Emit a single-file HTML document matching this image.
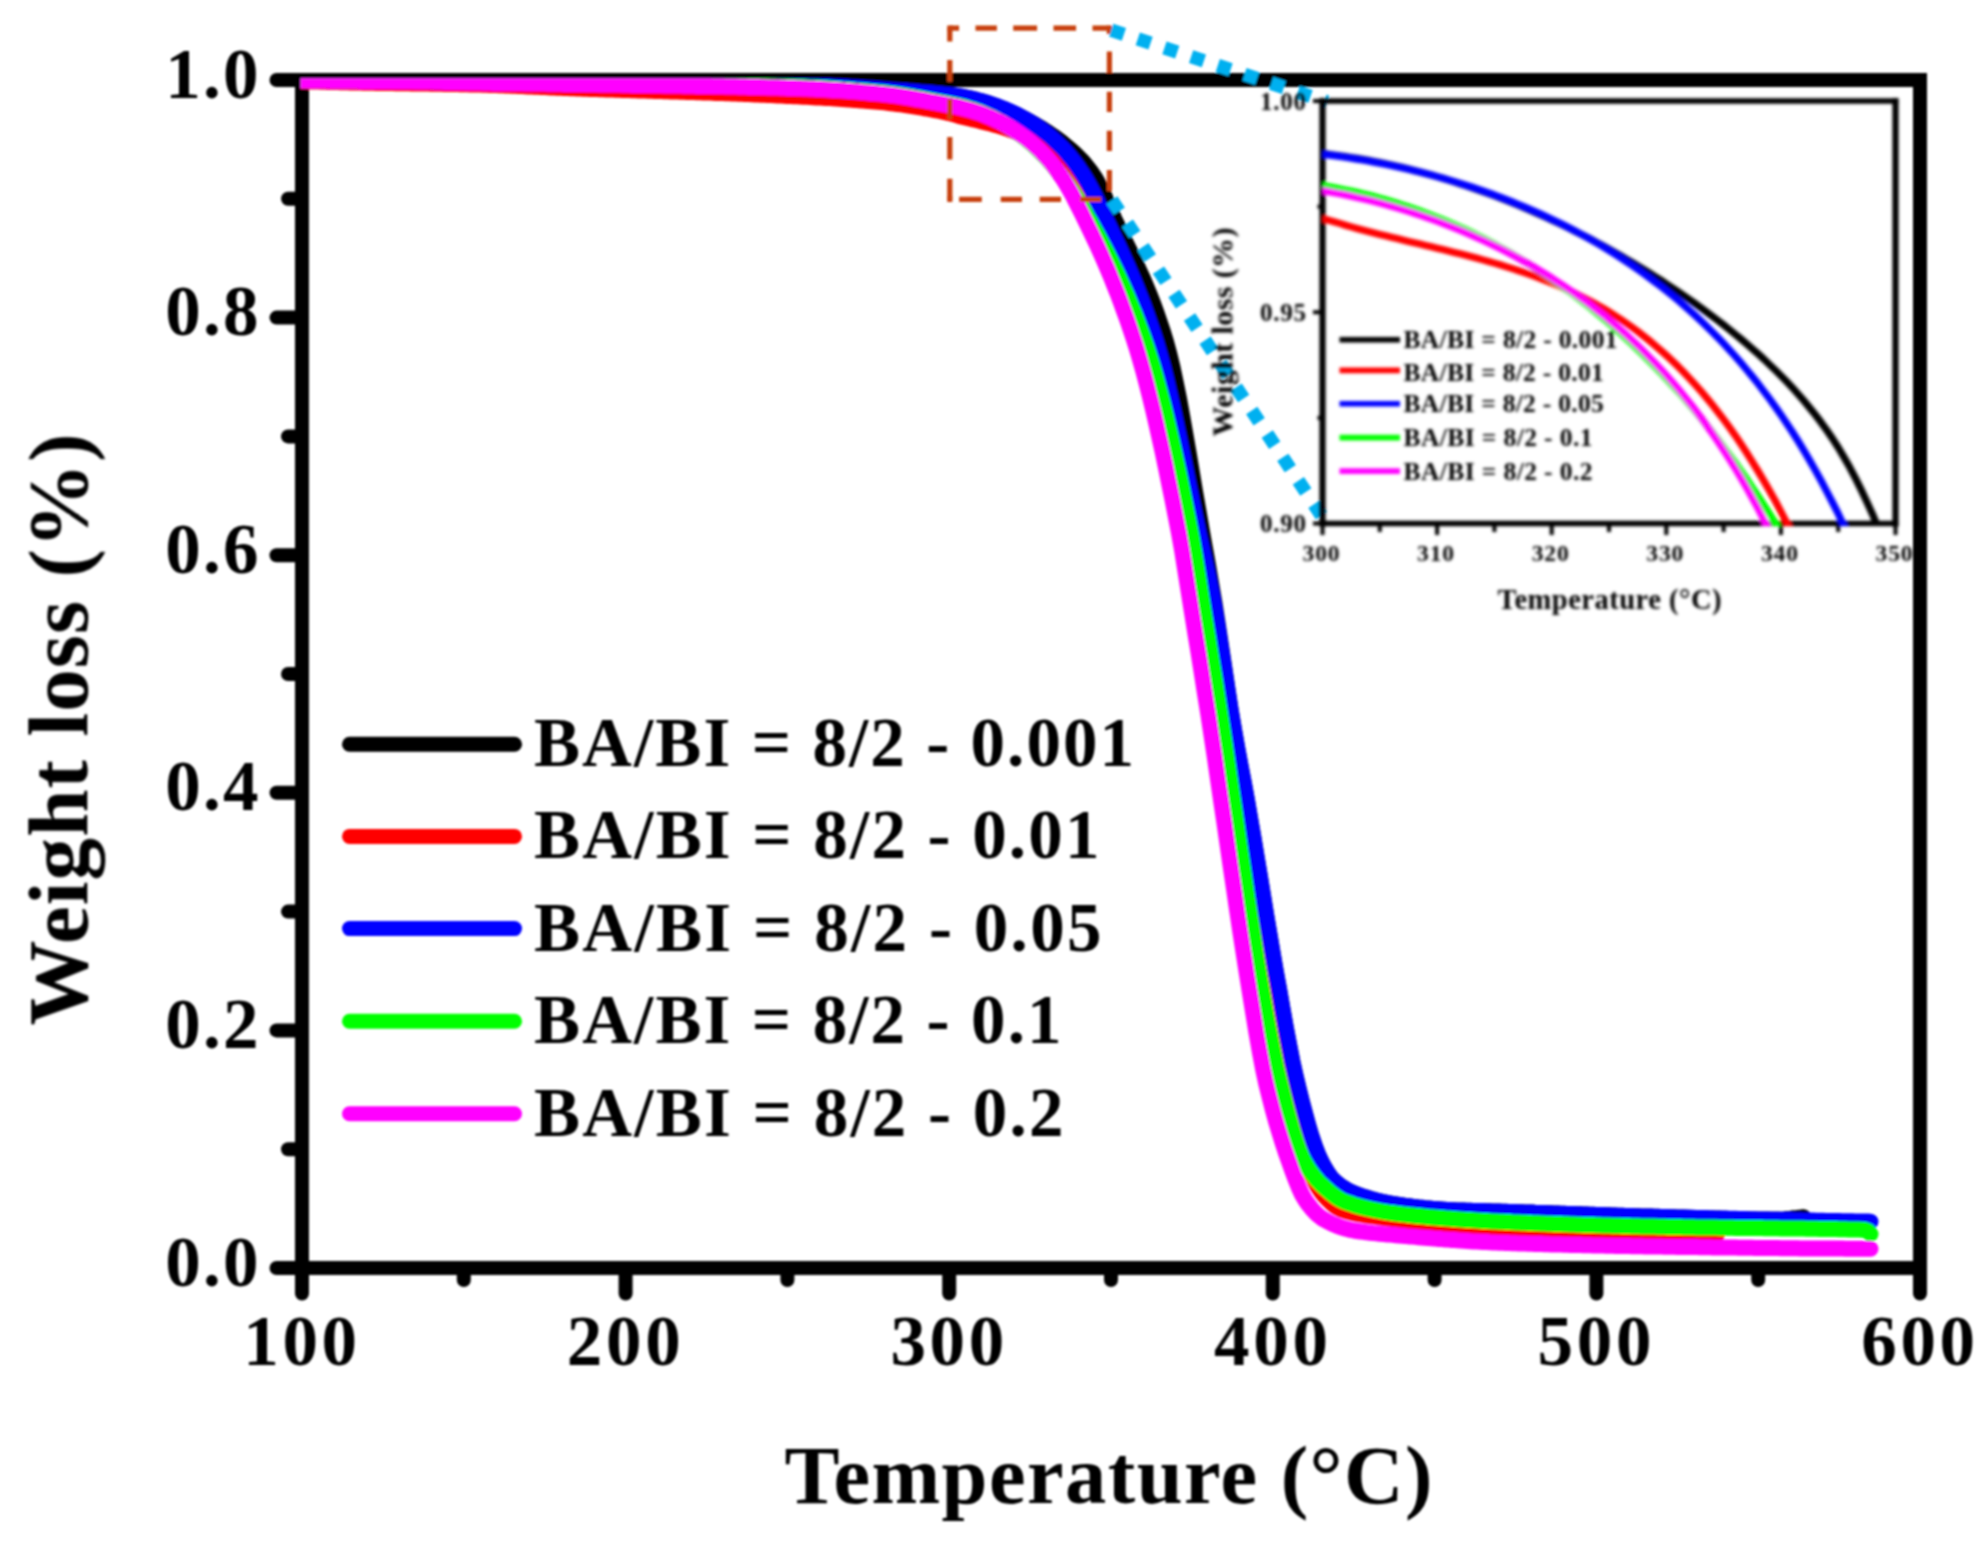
<!DOCTYPE html>
<html lang="en">
<head>
<meta charset="utf-8">
<title>TGA weight loss curves</title>
<style>
html,body{margin:0;padding:0;background:#ffffff;}
body{width:1987px;height:1553px;overflow:hidden;}
svg{display:block;}
text{font-family:"Liberation Serif","Times New Roman",serif;font-weight:bold;fill:#000;}
</style>
</head>
<body>
<svg width="1987" height="1553" viewBox="0 0 1987 1553">
<defs>
<clipPath id="mainclip"><rect x="300.5" y="78.3" width="1619.5" height="1189.7"/></clipPath>
<clipPath id="insetclip"><rect x="1322.5" y="101.0" width="573.0" height="425.0"/></clipPath>
<clipPath id="pageclip"><rect x="0" y="0" width="1913.5" height="1553"/></clipPath>
<filter id="soft" filterUnits="userSpaceOnUse" x="0" y="0" width="1987" height="1553"><feGaussianBlur stdDeviation="0.8"/></filter>
<filter id="softer" x="-2%" y="-2%" width="104%" height="104%"><feGaussianBlur stdDeviation="0.8"/></filter>
</defs>
<rect x="0" y="0" width="1987" height="1553" fill="#ffffff"/>
<g id="figure" filter="url(#soft)">

<g id="main-axes" stroke="#000" stroke-width="14" fill="none">
<rect x="302.0" y="80.0" width="1618.0" height="1188.0"/>
</g>
<g id="main-ticks" stroke="#000" stroke-width="14" stroke-linecap="round" fill="none">
<line x1="276.5" y1="1268.0" x2="302.0" y2="1268.0"/>
<line x1="288" y1="1149.2" x2="302.0" y2="1149.2"/>
<line x1="276.5" y1="1030.4" x2="302.0" y2="1030.4"/>
<line x1="288" y1="911.6" x2="302.0" y2="911.6"/>
<line x1="276.5" y1="792.8" x2="302.0" y2="792.8"/>
<line x1="288" y1="674.0" x2="302.0" y2="674.0"/>
<line x1="276.5" y1="555.2" x2="302.0" y2="555.2"/>
<line x1="288" y1="436.4" x2="302.0" y2="436.4"/>
<line x1="276.5" y1="317.6" x2="302.0" y2="317.6"/>
<line x1="288" y1="198.8" x2="302.0" y2="198.8"/>
<line x1="276.5" y1="80.0" x2="302.0" y2="80.0"/>
<line x1="302.0" y1="1268.0" x2="302.0" y2="1293.5"/>
<line x1="463.8" y1="1268.0" x2="463.8" y2="1280"/>
<line x1="625.6" y1="1268.0" x2="625.6" y2="1293.5"/>
<line x1="787.4" y1="1268.0" x2="787.4" y2="1280"/>
<line x1="949.2" y1="1268.0" x2="949.2" y2="1293.5"/>
<line x1="1111.0" y1="1268.0" x2="1111.0" y2="1280"/>
<line x1="1272.8" y1="1268.0" x2="1272.8" y2="1293.5"/>
<line x1="1434.6" y1="1268.0" x2="1434.6" y2="1280"/>
<line x1="1596.4" y1="1268.0" x2="1596.4" y2="1293.5"/>
<line x1="1758.2" y1="1268.0" x2="1758.2" y2="1280"/>
<line x1="1920.0" y1="1268.0" x2="1920.0" y2="1293.5"/>
</g>
<g id="main-curves" clip-path="url(#mainclip)" fill="none" stroke-linecap="round" stroke-linejoin="round">
<path stroke="#000000" stroke-width="16.0" d="M302.0 80.0L305.2 80.0L308.5 80.0L311.7 80.0L314.9 80.0L318.2 80.0L321.4 80.0L324.7 80.0L327.9 80.0L331.1 80.0L334.4 80.0L337.6 80.0L340.8 80.0L344.1 80.0L347.3 80.0L350.5 80.0L353.8 80.0L357.0 80.0L360.2 80.0L363.5 80.1L366.7 80.1L370.0 80.1L373.2 80.1L376.4 80.1L379.7 80.1L382.9 80.1L386.1 80.1L389.4 80.1L392.6 80.1L395.8 80.1L399.1 80.1L402.3 80.1L405.6 80.1L408.8 80.2L412.0 80.2L415.3 80.2L418.5 80.2L421.7 80.2L425.0 80.2L428.2 80.2L431.4 80.2L434.7 80.2L437.9 80.2L441.1 80.3L444.4 80.3L447.6 80.3L450.9 80.3L454.1 80.3L457.3 80.3L460.6 80.3L463.8 80.3L467.0 80.4L470.3 80.4L473.5 80.4L476.7 80.4L480.0 80.4L483.2 80.4L486.5 80.4L489.7 80.4L492.9 80.5L496.2 80.5L499.4 80.5L502.6 80.5L505.9 80.5L509.1 80.5L512.3 80.6L515.6 80.6L518.8 80.6L522.0 80.6L525.3 80.6L528.5 80.6L531.8 80.6L535.0 80.7L538.2 80.7L541.5 80.7L544.7 80.7L547.9 80.7L551.2 80.7L554.4 80.8L557.6 80.8L560.9 80.8L564.1 80.8L567.4 80.8L570.6 80.9L573.8 80.9L577.1 80.9L580.3 80.9L583.5 80.9L586.8 81.0L590.0 81.0L593.2 81.0L596.5 81.0L599.7 81.0L602.9 81.0L606.2 81.1L609.4 81.1L612.7 81.1L615.9 81.1L619.1 81.1L622.4 81.2L625.6 81.2L628.8 81.2L632.1 81.2L635.3 81.3L638.5 81.3L641.8 81.3L645.0 81.3L648.3 81.4L651.5 81.4L654.7 81.4L658.0 81.4L661.2 81.5L664.4 81.5L667.7 81.6L670.9 81.6L674.1 81.6L677.4 81.7L680.6 81.7L683.8 81.7L687.1 81.8L690.3 81.8L693.6 81.9L696.8 81.9L700.0 82.0L703.3 82.0L706.5 82.1L709.7 82.1L713.0 82.2L716.2 82.2L719.4 82.3L722.7 82.3L725.9 82.4L729.2 82.5L732.4 82.5L735.6 82.6L738.9 82.6L742.1 82.7L745.3 82.8L748.6 82.8L751.8 82.9L755.0 83.0L758.3 83.0L761.5 83.1L764.7 83.2L768.0 83.3L771.2 83.4L774.5 83.5L777.7 83.7L780.9 83.8L784.2 83.9L787.4 84.1L790.6 84.2L793.9 84.4L797.1 84.5L800.3 84.7L803.6 84.8L806.8 85.0L810.1 85.1L813.3 85.3L816.5 85.5L819.8 85.6L823.0 85.8L826.2 85.9L829.5 86.1L832.7 86.3L835.9 86.4L839.2 86.6L842.4 86.8L845.6 87.0L848.9 87.2L852.1 87.4L855.4 87.6L858.6 87.8L861.8 88.0L865.1 88.2L868.3 88.4L871.5 88.6L874.8 88.8L878.0 89.1L881.2 89.3L884.5 89.5L887.7 89.7L891.0 90.0L894.2 90.2L897.4 90.4L900.7 90.6L903.9 90.9L907.1 91.1L910.4 91.3L913.6 91.6L916.8 91.8L920.1 92.1L923.3 92.3L926.5 92.6L929.8 92.9L933.0 93.2L936.3 93.5L939.5 93.8L942.7 94.1L946.0 94.4L949.2 94.8L952.4 95.2L955.7 95.6L958.9 96.1L962.1 96.7L965.4 97.3L968.6 98.0L971.9 98.7L975.1 99.5L978.3 100.4L981.6 101.3L984.8 102.2L988.0 103.2L991.3 104.3L994.5 105.5L997.7 106.6L1001.0 107.9L1004.2 109.2L1007.4 110.5L1010.7 112.0L1013.9 113.4L1017.2 115.0L1020.4 116.5L1023.6 118.2L1026.9 119.9L1030.1 121.7L1033.3 123.5L1036.6 125.4L1039.8 127.3L1043.0 129.3L1046.3 131.4L1049.5 133.6L1052.8 135.8L1056.0 138.1L1059.2 140.5L1062.5 143.0L1065.7 145.6L1068.9 148.3L1072.2 151.1L1075.4 154.1L1078.6 157.2L1081.9 160.6L1085.1 164.3L1088.3 168.2L1091.6 172.6L1094.8 177.4L1098.1 183.0L1101.3 189.3L1104.5 196.2L1107.8 204.0L1111.0 211.4L1114.2 218.6L1117.5 225.5L1120.7 232.2L1123.9 238.9L1127.2 245.5L1130.4 252.1L1133.7 258.7L1136.9 265.5L1140.1 272.5L1143.4 279.7L1146.6 287.3L1149.8 295.1L1153.1 303.4L1156.3 312.2L1159.5 321.5L1162.8 331.4L1166.0 341.9L1169.2 353.7L1172.5 367.2L1175.7 382.3L1179.0 398.7L1182.2 416.2L1185.4 434.5L1188.7 453.3L1191.9 472.5L1195.1 491.7L1198.4 510.7L1201.6 529.3L1204.8 547.4L1208.1 565.7L1211.3 584.5L1214.6 603.9L1217.8 624.5L1221.0 645.8L1224.3 667.6L1227.5 689.2L1230.7 710.1L1234.0 729.8L1237.2 748.1L1240.4 765.3L1243.7 782.4L1246.9 800.0L1250.1 818.6L1253.4 837.6L1256.6 857.0L1259.9 876.6L1263.1 896.3L1266.3 916.0L1269.6 935.3L1272.8 954.3L1276.0 972.8L1279.3 990.8L1282.5 1009.1L1285.7 1027.1L1289.0 1044.6L1292.2 1060.9L1295.5 1075.7L1298.7 1089.1L1301.9 1101.9L1305.2 1114.3L1308.4 1126.0L1311.6 1136.7L1314.9 1146.3L1318.1 1154.7L1321.3 1161.6L1324.6 1167.7L1327.8 1173.0L1331.0 1177.5L1334.3 1180.9L1337.5 1183.6L1340.8 1186.1L1344.0 1188.2L1347.2 1190.1L1350.5 1191.8L1353.7 1193.2L1356.9 1194.5L1360.2 1195.6L1363.4 1196.7L1366.6 1197.7L1369.9 1198.7L1373.1 1199.6L1376.4 1200.4L1379.6 1201.2L1382.8 1202.0L1386.1 1202.7L1389.3 1203.3L1392.5 1203.9L1395.8 1204.4L1399.0 1204.9L1402.2 1205.4L1405.5 1205.9L1408.7 1206.3L1411.9 1206.7L1415.2 1207.1L1418.4 1207.5L1421.7 1207.8L1424.9 1208.2L1428.1 1208.5L1431.4 1208.8L1434.6 1209.1L1437.8 1209.3L1441.1 1209.5L1444.3 1209.7L1447.5 1209.9L1450.8 1210.1L1454.0 1210.2L1457.3 1210.4L1460.5 1210.5L1463.7 1210.6L1467.0 1210.7L1470.2 1210.8L1473.4 1210.9L1476.7 1211.0L1479.9 1211.0L1483.1 1211.1L1486.4 1211.2L1489.6 1211.3L1492.8 1211.4L1496.1 1211.5L1499.3 1211.6L1502.6 1211.7L1505.8 1211.8L1509.0 1211.9L1512.3 1212.0L1515.5 1212.1L1518.7 1212.2L1522.0 1212.3L1525.2 1212.4L1528.4 1212.5L1531.7 1212.6L1534.9 1212.8L1538.2 1212.9L1541.4 1213.0L1544.6 1213.1L1547.9 1213.2L1551.1 1213.3L1554.3 1213.4L1557.6 1213.5L1560.8 1213.7L1564.0 1213.8L1567.3 1213.9L1570.5 1214.0L1573.7 1214.1L1577.0 1214.2L1580.2 1214.3L1583.5 1214.5L1586.7 1214.6L1589.9 1214.7L1593.2 1214.8L1596.4 1214.9L1599.6 1215.0L1602.9 1215.1L1606.1 1215.2L1609.3 1215.3L1612.6 1215.4L1615.8 1215.6L1619.1 1215.7L1622.3 1215.8L1625.5 1215.9L1628.8 1216.0L1632.0 1216.1L1635.2 1216.2L1638.5 1216.3L1641.7 1216.4L1644.9 1216.5L1648.2 1216.6L1651.4 1216.6L1654.6 1216.7L1657.9 1216.8L1661.1 1216.9L1664.4 1217.0L1667.6 1217.1L1670.8 1217.2L1674.1 1217.3L1677.3 1217.4L1680.5 1217.5L1683.8 1217.6L1687.0 1217.7L1690.2 1217.8L1693.5 1217.9L1696.7 1218.0L1700.0 1218.1L1703.2 1218.2L1706.4 1218.3L1709.7 1218.4L1712.9 1218.5L1716.1 1218.6L1719.4 1218.6L1722.6 1218.7L1725.8 1218.8L1729.1 1218.9L1732.3 1219.0L1735.5 1219.1L1738.8 1219.1L1742.0 1219.2L1745.3 1219.3L1748.5 1219.3L1751.7 1219.4L1755.0 1219.4L1758.2 1219.5L1761.4 1219.5L1764.7 1219.5L1767.9 1219.6L1771.1 1219.6L1774.4 1219.6L1777.6 1219.6L1780.9 1219.5L1784.1 1219.3L1787.3 1219.0L1790.6 1218.7L1793.8 1218.3L1797.0 1218.0L1800.3 1217.6L1803.5 1217.2"/>
<path stroke="#ff0000" stroke-width="16.0" d="M302.0 81.2L305.2 81.3L308.5 81.4L311.7 81.5L314.9 81.5L318.2 81.6L321.4 81.7L324.7 81.8L327.9 81.9L331.1 82.0L334.4 82.1L337.6 82.1L340.8 82.2L344.1 82.3L347.3 82.3L350.5 82.4L353.8 82.5L357.0 82.5L360.2 82.6L363.5 82.7L366.7 82.7L370.0 82.8L373.2 82.8L376.4 82.9L379.7 82.9L382.9 83.0L386.1 83.0L389.4 83.1L392.6 83.1L395.8 83.2L399.1 83.2L402.3 83.3L405.6 83.3L408.8 83.3L412.0 83.4L415.3 83.4L418.5 83.5L421.7 83.5L425.0 83.6L428.2 83.6L431.4 83.7L434.7 83.7L437.9 83.8L441.1 83.8L444.4 83.9L447.6 83.9L450.9 84.0L454.1 84.0L457.3 84.1L460.6 84.2L463.8 84.2L467.0 84.3L470.3 84.4L473.5 84.4L476.7 84.5L480.0 84.6L483.2 84.7L486.5 84.8L489.7 84.9L492.9 85.0L496.2 85.1L499.4 85.2L502.6 85.3L505.9 85.4L509.1 85.6L512.3 85.7L515.6 85.8L518.8 86.0L522.0 86.1L525.3 86.2L528.5 86.4L531.8 86.5L535.0 86.7L538.2 86.8L541.5 87.0L544.7 87.1L547.9 87.2L551.2 87.4L554.4 87.5L557.6 87.7L560.9 87.8L564.1 87.9L567.4 88.1L570.6 88.2L573.8 88.3L577.1 88.4L580.3 88.6L583.5 88.7L586.8 88.8L590.0 88.9L593.2 89.0L596.5 89.1L599.7 89.2L602.9 89.3L606.2 89.4L609.4 89.5L612.7 89.6L615.9 89.7L619.1 89.8L622.4 89.9L625.6 90.0L628.8 90.1L632.1 90.2L635.3 90.3L638.5 90.4L641.8 90.5L645.0 90.6L648.3 90.7L651.5 90.8L654.7 90.9L658.0 91.0L661.2 91.1L664.4 91.2L667.7 91.3L670.9 91.4L674.1 91.5L677.4 91.6L680.6 91.7L683.8 91.8L687.1 91.9L690.3 92.0L693.6 92.1L696.8 92.2L700.0 92.3L703.3 92.4L706.5 92.5L709.7 92.6L713.0 92.7L716.2 92.9L719.4 93.0L722.7 93.1L725.9 93.2L729.2 93.3L732.4 93.5L735.6 93.6L738.9 93.7L742.1 93.8L745.3 94.0L748.6 94.1L751.8 94.3L755.0 94.4L758.3 94.5L761.5 94.7L764.7 94.8L768.0 95.0L771.2 95.1L774.5 95.3L777.7 95.4L780.9 95.6L784.2 95.7L787.4 95.9L790.6 96.0L793.9 96.2L797.1 96.3L800.3 96.5L803.6 96.7L806.8 96.8L810.1 97.0L813.3 97.2L816.5 97.4L819.8 97.6L823.0 97.7L826.2 97.9L829.5 98.1L832.7 98.3L835.9 98.6L839.2 98.8L842.4 99.0L845.6 99.2L848.9 99.4L852.1 99.7L855.4 99.9L858.6 100.2L861.8 100.4L865.1 100.7L868.3 101.0L871.5 101.2L874.8 101.5L878.0 101.8L881.2 102.1L884.5 102.4L887.7 102.8L891.0 103.2L894.2 103.5L897.4 104.0L900.7 104.4L903.9 104.8L907.1 105.3L910.4 105.8L913.6 106.3L916.8 106.8L920.1 107.4L923.3 108.0L926.5 108.5L929.8 109.1L933.0 109.8L936.3 110.4L939.5 111.0L942.7 111.7L946.0 112.4L949.2 113.1L952.4 113.9L955.7 114.9L958.9 115.9L962.1 116.7L965.4 117.5L968.6 118.3L971.9 119.1L975.1 119.8L978.3 120.6L981.6 121.4L984.8 122.2L988.0 123.0L991.3 123.8L994.5 124.7L997.7 125.6L1001.0 126.6L1004.2 127.6L1007.4 128.7L1010.7 129.9L1013.9 131.1L1017.2 132.5L1020.4 134.0L1023.6 135.6L1026.9 137.4L1030.1 139.3L1033.3 141.4L1036.6 143.6L1039.8 146.0L1043.0 148.7L1046.3 151.5L1049.5 154.6L1052.8 157.9L1056.0 161.5L1059.2 165.4L1062.5 169.5L1065.7 174.0L1068.9 178.8L1072.2 184.0L1075.4 189.5L1078.6 195.5L1081.9 201.7L1085.1 208.0L1088.3 214.1L1091.6 220.2L1094.8 226.3L1098.1 232.3L1101.3 238.3L1104.5 244.4L1107.8 250.6L1111.0 256.9L1114.2 263.2L1117.5 269.8L1120.7 276.5L1123.9 283.3L1127.2 290.5L1130.4 297.8L1133.7 305.5L1136.9 313.4L1140.1 321.7L1143.4 330.3L1146.6 339.3L1149.8 348.8L1153.1 359.0L1156.3 369.8L1159.5 381.4L1162.8 393.5L1166.0 406.3L1169.2 419.7L1172.5 433.6L1175.7 448.0L1179.0 462.9L1182.2 478.2L1185.4 493.9L1188.7 510.1L1191.9 526.5L1195.1 543.5L1198.4 562.9L1201.6 583.6L1204.8 604.0L1208.1 624.0L1211.3 643.9L1214.6 664.0L1217.8 684.2L1221.0 704.7L1224.3 725.6L1227.5 747.1L1230.7 769.2L1234.0 791.3L1237.2 813.1L1240.4 835.2L1243.7 857.5L1246.9 879.8L1250.1 901.9L1253.4 923.5L1256.6 944.7L1259.9 965.0L1263.1 984.4L1266.3 1002.9L1269.6 1020.9L1272.8 1038.3L1276.0 1054.8L1279.3 1070.0L1282.5 1083.8L1285.7 1097.0L1289.0 1109.7L1292.2 1121.8L1295.5 1133.1L1298.7 1143.5L1301.9 1152.9L1305.2 1161.1L1308.4 1168.5L1311.6 1175.3L1314.9 1181.7L1318.1 1187.3L1321.3 1192.1L1324.6 1196.1L1327.8 1199.5L1331.0 1202.6L1334.3 1205.4L1337.5 1207.7L1340.8 1209.4L1344.0 1210.6L1347.2 1211.5L1350.5 1212.4L1353.7 1213.2L1356.9 1213.8L1360.2 1214.4L1363.4 1215.0L1366.6 1215.5L1369.9 1216.0L1373.1 1216.4L1376.4 1216.9L1379.6 1217.4L1382.8 1217.8L1386.1 1218.3L1389.3 1218.7L1392.5 1219.2L1395.8 1219.6L1399.0 1220.0L1402.2 1220.4L1405.5 1220.7L1408.7 1221.1L1411.9 1221.5L1415.2 1221.8L1418.4 1222.2L1421.7 1222.5L1424.9 1222.8L1428.1 1223.2L1431.4 1223.5L1434.6 1223.8L1437.8 1224.1L1441.1 1224.5L1444.3 1224.8L1447.5 1225.1L1450.8 1225.4L1454.0 1225.8L1457.3 1226.1L1460.5 1226.4L1463.7 1226.7L1467.0 1227.0L1470.2 1227.3L1473.4 1227.6L1476.7 1227.9L1479.9 1228.1L1483.1 1228.4L1486.4 1228.6L1489.6 1228.8L1492.8 1229.0L1496.1 1229.2L1499.3 1229.4L1502.6 1229.5L1505.8 1229.7L1509.0 1229.8L1512.3 1230.0L1515.5 1230.1L1518.7 1230.2L1522.0 1230.3L1525.2 1230.5L1528.4 1230.6L1531.7 1230.7L1534.9 1230.8L1538.2 1230.9L1541.4 1231.0L1544.6 1231.1L1547.9 1231.2L1551.1 1231.3L1554.3 1231.4L1557.6 1231.5L1560.8 1231.6L1564.0 1231.6L1567.3 1231.7L1570.5 1231.8L1573.7 1231.9L1577.0 1232.0L1580.2 1232.0L1583.5 1232.1L1586.7 1232.2L1589.9 1232.2L1593.2 1232.3L1596.4 1232.4L1599.6 1232.4L1602.9 1232.5L1606.1 1232.5L1609.3 1232.6L1612.6 1232.7L1615.8 1232.7L1619.1 1232.8L1622.3 1232.8L1625.5 1232.9L1628.8 1233.0L1632.0 1233.0L1635.2 1233.1L1638.5 1233.1L1641.7 1233.2L1644.9 1233.2L1648.2 1233.3L1651.4 1233.3L1654.6 1233.4L1657.9 1233.4L1661.1 1233.5L1664.4 1233.5L1667.6 1233.6L1670.8 1233.6L1674.1 1233.7L1677.3 1233.7L1680.5 1233.7L1683.8 1233.8L1687.0 1233.8L1690.2 1233.8L1693.5 1233.9L1696.7 1233.9L1700.0 1233.9L1703.2 1233.9L1706.4 1234.0L1709.7 1234.0L1712.9 1234.0L1716.1 1234.0L1717.1 1234.0"/>
<path stroke="#0000ff" stroke-width="16.0" d="M302.0 80.0L305.2 80.0L308.5 80.0L311.7 80.0L314.9 80.0L318.2 80.0L321.4 80.0L324.7 80.0L327.9 80.0L331.1 80.0L334.4 80.0L337.6 80.0L340.8 80.0L344.1 80.0L347.3 80.0L350.5 80.0L353.8 80.0L357.0 80.0L360.2 80.0L363.5 80.1L366.7 80.1L370.0 80.1L373.2 80.1L376.4 80.1L379.7 80.1L382.9 80.1L386.1 80.1L389.4 80.1L392.6 80.1L395.8 80.1L399.1 80.1L402.3 80.1L405.6 80.1L408.8 80.2L412.0 80.2L415.3 80.2L418.5 80.2L421.7 80.2L425.0 80.2L428.2 80.2L431.4 80.2L434.7 80.2L437.9 80.2L441.1 80.3L444.4 80.3L447.6 80.3L450.9 80.3L454.1 80.3L457.3 80.3L460.6 80.3L463.8 80.3L467.0 80.4L470.3 80.4L473.5 80.4L476.7 80.4L480.0 80.4L483.2 80.4L486.5 80.4L489.7 80.4L492.9 80.5L496.2 80.5L499.4 80.5L502.6 80.5L505.9 80.5L509.1 80.5L512.3 80.6L515.6 80.6L518.8 80.6L522.0 80.6L525.3 80.6L528.5 80.6L531.8 80.6L535.0 80.7L538.2 80.7L541.5 80.7L544.7 80.7L547.9 80.7L551.2 80.7L554.4 80.8L557.6 80.8L560.9 80.8L564.1 80.8L567.4 80.8L570.6 80.9L573.8 80.9L577.1 80.9L580.3 80.9L583.5 80.9L586.8 81.0L590.0 81.0L593.2 81.0L596.5 81.0L599.7 81.0L602.9 81.0L606.2 81.1L609.4 81.1L612.7 81.1L615.9 81.1L619.1 81.1L622.4 81.2L625.6 81.2L628.8 81.2L632.1 81.2L635.3 81.3L638.5 81.3L641.8 81.3L645.0 81.3L648.3 81.4L651.5 81.4L654.7 81.4L658.0 81.4L661.2 81.5L664.4 81.5L667.7 81.6L670.9 81.6L674.1 81.6L677.4 81.7L680.6 81.7L683.8 81.7L687.1 81.8L690.3 81.8L693.6 81.9L696.8 81.9L700.0 82.0L703.3 82.0L706.5 82.1L709.7 82.1L713.0 82.2L716.2 82.2L719.4 82.3L722.7 82.3L725.9 82.4L729.2 82.5L732.4 82.5L735.6 82.6L738.9 82.6L742.1 82.7L745.3 82.8L748.6 82.8L751.8 82.9L755.0 83.0L758.3 83.0L761.5 83.1L764.7 83.2L768.0 83.3L771.2 83.4L774.5 83.5L777.7 83.7L780.9 83.8L784.2 83.9L787.4 84.1L790.6 84.2L793.9 84.4L797.1 84.5L800.3 84.7L803.6 84.8L806.8 85.0L810.1 85.1L813.3 85.3L816.5 85.5L819.8 85.6L823.0 85.8L826.2 85.9L829.5 86.1L832.7 86.3L835.9 86.4L839.2 86.6L842.4 86.8L845.6 87.0L848.9 87.2L852.1 87.4L855.4 87.6L858.6 87.8L861.8 88.0L865.1 88.2L868.3 88.4L871.5 88.6L874.8 88.8L878.0 89.1L881.2 89.3L884.5 89.5L887.7 89.7L891.0 90.0L894.2 90.2L897.4 90.4L900.7 90.7L903.9 90.9L907.1 91.1L910.4 91.4L913.6 91.6L916.8 91.9L920.1 92.2L923.3 92.4L926.5 92.7L929.8 93.0L933.0 93.3L936.3 93.6L939.5 93.9L942.7 94.3L946.0 94.6L949.2 95.0L952.4 95.4L955.7 95.8L958.9 96.3L962.1 96.9L965.4 97.5L968.6 98.1L971.9 98.8L975.1 99.6L978.3 100.4L981.6 101.3L984.8 102.2L988.0 103.2L991.3 104.2L994.5 105.3L997.7 106.4L1001.0 107.7L1004.2 108.9L1007.4 110.3L1010.7 111.7L1013.9 113.2L1017.2 114.8L1020.4 116.5L1023.6 118.2L1026.9 120.1L1030.1 122.0L1033.3 124.0L1036.6 126.2L1039.8 128.4L1043.0 130.8L1046.3 133.3L1049.5 136.0L1052.8 138.8L1056.0 141.8L1059.2 144.9L1062.5 148.2L1065.7 151.7L1068.9 155.5L1072.2 159.5L1075.4 163.7L1078.6 168.2L1081.9 173.1L1085.1 178.2L1088.3 183.8L1091.6 189.8L1094.8 196.0L1098.1 202.9L1101.3 209.8L1104.5 216.7L1107.8 223.5L1111.0 230.3L1114.2 237.2L1117.5 244.1L1120.7 251.1L1123.9 258.2L1127.2 265.5L1130.4 272.9L1133.7 280.6L1136.9 288.5L1140.1 296.7L1143.4 305.2L1146.6 314.1L1149.8 323.3L1153.1 333.0L1156.3 343.0L1159.5 353.9L1162.8 365.9L1166.0 378.8L1169.2 392.6L1172.5 407.1L1175.7 422.2L1179.0 437.6L1182.2 453.4L1185.4 469.3L1188.7 485.3L1191.9 501.2L1195.1 516.8L1198.4 532.1L1201.6 546.8L1204.8 561.3L1208.1 576.1L1211.3 591.7L1214.6 608.8L1217.8 627.7L1221.0 648.0L1224.3 668.9L1227.5 690.0L1230.7 710.5L1234.0 729.8L1237.2 747.8L1240.4 765.1L1243.7 782.3L1246.9 800.0L1250.1 818.6L1253.4 837.6L1256.6 857.0L1259.9 876.6L1263.1 896.3L1266.3 916.0L1269.6 935.3L1272.8 954.3L1276.0 972.8L1279.3 990.8L1282.5 1009.1L1285.7 1027.1L1289.0 1044.6L1292.2 1060.9L1295.5 1075.7L1298.7 1089.1L1301.9 1101.9L1305.2 1114.3L1308.4 1126.0L1311.6 1136.7L1314.9 1146.3L1318.1 1154.7L1321.3 1161.6L1324.6 1167.7L1327.8 1173.0L1331.0 1177.5L1334.3 1180.9L1337.5 1183.6L1340.8 1186.1L1344.0 1188.2L1347.2 1190.1L1350.5 1191.8L1353.7 1193.2L1356.9 1194.5L1360.2 1195.6L1363.4 1196.7L1366.6 1197.7L1369.9 1198.7L1373.1 1199.6L1376.4 1200.4L1379.6 1201.2L1382.8 1202.0L1386.1 1202.7L1389.3 1203.3L1392.5 1203.9L1395.8 1204.4L1399.0 1204.9L1402.2 1205.4L1405.5 1205.9L1408.7 1206.3L1411.9 1206.7L1415.2 1207.1L1418.4 1207.5L1421.7 1207.8L1424.9 1208.2L1428.1 1208.5L1431.4 1208.8L1434.6 1209.1L1437.8 1209.3L1441.1 1209.5L1444.3 1209.7L1447.5 1209.9L1450.8 1210.1L1454.0 1210.2L1457.3 1210.4L1460.5 1210.5L1463.7 1210.6L1467.0 1210.7L1470.2 1210.8L1473.4 1210.9L1476.7 1211.0L1479.9 1211.0L1483.1 1211.1L1486.4 1211.2L1489.6 1211.3L1492.8 1211.4L1496.1 1211.5L1499.3 1211.6L1502.6 1211.7L1505.8 1211.8L1509.0 1211.9L1512.3 1212.0L1515.5 1212.1L1518.7 1212.2L1522.0 1212.3L1525.2 1212.4L1528.4 1212.5L1531.7 1212.6L1534.9 1212.8L1538.2 1212.9L1541.4 1213.0L1544.6 1213.1L1547.9 1213.2L1551.1 1213.3L1554.3 1213.4L1557.6 1213.5L1560.8 1213.7L1564.0 1213.8L1567.3 1213.9L1570.5 1214.0L1573.7 1214.1L1577.0 1214.2L1580.2 1214.3L1583.5 1214.5L1586.7 1214.6L1589.9 1214.7L1593.2 1214.8L1596.4 1214.9L1599.6 1215.0L1602.9 1215.1L1606.1 1215.2L1609.3 1215.3L1612.6 1215.4L1615.8 1215.5L1619.1 1215.7L1622.3 1215.8L1625.5 1215.9L1628.8 1216.0L1632.0 1216.1L1635.2 1216.2L1638.5 1216.3L1641.7 1216.4L1644.9 1216.5L1648.2 1216.6L1651.4 1216.6L1654.6 1216.7L1657.9 1216.8L1661.1 1216.9L1664.4 1217.0L1667.6 1217.1L1670.8 1217.2L1674.1 1217.3L1677.3 1217.4L1680.5 1217.4L1683.8 1217.5L1687.0 1217.6L1690.2 1217.7L1693.5 1217.8L1696.7 1217.9L1700.0 1217.9L1703.2 1218.0L1706.4 1218.1L1709.7 1218.2L1712.9 1218.3L1716.1 1218.4L1719.4 1218.4L1722.6 1218.5L1725.8 1218.6L1729.1 1218.7L1732.3 1218.8L1735.5 1218.8L1738.8 1218.9L1742.0 1219.0L1745.3 1219.1L1748.5 1219.2L1751.7 1219.2L1755.0 1219.3L1758.2 1219.4L1761.4 1219.5L1764.7 1219.5L1767.9 1219.6L1771.1 1219.7L1774.4 1219.8L1777.6 1219.8L1780.9 1219.9L1784.1 1220.0L1787.3 1220.0L1790.6 1220.1L1793.8 1220.2L1797.0 1220.3L1800.3 1220.3L1803.5 1220.4L1806.7 1220.5L1810.0 1220.5L1813.2 1220.6L1816.4 1220.7L1819.7 1220.7L1822.9 1220.8L1826.2 1220.9L1829.4 1220.9L1832.6 1221.0L1835.9 1221.0L1839.1 1221.1L1842.3 1221.2L1845.6 1221.2L1848.8 1221.3L1852.0 1221.3L1855.3 1221.4L1858.5 1221.5L1861.8 1221.5L1865.0 1221.6L1868.2 1221.6L1870.5 1221.7"/>
<path stroke="#00ff00" stroke-width="16.0" d="M302.0 80.2L305.2 80.2L308.5 80.3L311.7 80.3L314.9 80.3L318.2 80.3L321.4 80.3L324.7 80.3L327.9 80.3L331.1 80.4L334.4 80.4L337.6 80.4L340.8 80.4L344.1 80.4L347.3 80.4L350.5 80.5L353.8 80.5L357.0 80.5L360.2 80.5L363.5 80.6L366.7 80.6L370.0 80.6L373.2 80.6L376.4 80.7L379.7 80.7L382.9 80.7L386.1 80.7L389.4 80.8L392.6 80.8L395.8 80.8L399.1 80.8L402.3 80.9L405.6 80.9L408.8 80.9L412.0 81.0L415.3 81.0L418.5 81.0L421.7 81.1L425.0 81.1L428.2 81.1L431.4 81.2L434.7 81.2L437.9 81.3L441.1 81.3L444.4 81.4L447.6 81.4L450.9 81.4L454.1 81.5L457.3 81.5L460.6 81.6L463.8 81.6L467.0 81.7L470.3 81.7L473.5 81.8L476.7 81.8L480.0 81.9L483.2 81.9L486.5 82.0L489.7 82.0L492.9 82.1L496.2 82.1L499.4 82.1L502.6 82.2L505.9 82.2L509.1 82.3L512.3 82.3L515.6 82.3L518.8 82.4L522.0 82.4L525.3 82.5L528.5 82.5L531.8 82.6L535.0 82.6L538.2 82.6L541.5 82.7L544.7 82.7L547.9 82.8L551.2 82.8L554.4 82.8L557.6 82.9L560.9 82.9L564.1 83.0L567.4 83.0L570.6 83.0L573.8 83.1L577.1 83.1L580.3 83.2L583.5 83.2L586.8 83.2L590.0 83.3L593.2 83.3L596.5 83.4L599.7 83.4L602.9 83.5L606.2 83.5L609.4 83.6L612.7 83.6L615.9 83.7L619.1 83.7L622.4 83.8L625.6 83.8L628.8 83.9L632.1 83.9L635.3 83.9L638.5 84.0L641.8 84.0L645.0 84.1L648.3 84.1L651.5 84.2L654.7 84.2L658.0 84.3L661.2 84.3L664.4 84.4L667.7 84.4L670.9 84.4L674.1 84.5L677.4 84.5L680.6 84.6L683.8 84.6L687.1 84.7L690.3 84.7L693.6 84.8L696.8 84.8L700.0 84.9L703.3 84.9L706.5 85.0L709.7 85.0L713.0 85.1L716.2 85.1L719.4 85.2L722.7 85.2L725.9 85.3L729.2 85.3L732.4 85.4L735.6 85.5L738.9 85.5L742.1 85.6L745.3 85.6L748.6 85.7L751.8 85.8L755.0 85.9L758.3 85.9L761.5 86.0L764.7 86.1L768.0 86.1L771.2 86.2L774.5 86.3L777.7 86.4L780.9 86.5L784.2 86.6L787.4 86.6L790.6 86.7L793.9 86.8L797.1 86.9L800.3 87.0L803.6 87.1L806.8 87.2L810.1 87.4L813.3 87.5L816.5 87.6L819.8 87.8L823.0 88.0L826.2 88.1L829.5 88.3L832.7 88.5L835.9 88.7L839.2 88.9L842.4 89.2L845.6 89.4L848.9 89.6L852.1 89.9L855.4 90.2L858.6 90.4L861.8 90.7L865.1 91.0L868.3 91.3L871.5 91.6L874.8 91.9L878.0 92.2L881.2 92.5L884.5 92.8L887.7 93.2L891.0 93.6L894.2 94.0L897.4 94.4L900.7 94.9L903.9 95.4L907.1 95.9L910.4 96.5L913.6 97.0L916.8 97.6L920.1 98.2L923.3 98.8L926.5 99.4L929.8 100.0L933.0 100.7L936.3 101.3L939.5 101.9L942.7 102.5L946.0 103.2L949.2 103.8L952.4 104.4L955.7 105.0L958.9 105.7L962.1 106.5L965.4 107.3L968.6 108.3L971.9 109.3L975.1 110.4L978.3 111.5L981.6 112.8L984.8 114.1L988.0 115.5L991.3 117.0L994.5 118.6L997.7 120.3L1001.0 122.0L1004.2 123.9L1007.4 125.8L1010.7 127.9L1013.9 130.1L1017.2 132.3L1020.4 134.7L1023.6 137.2L1026.9 139.8L1030.1 142.5L1033.3 145.3L1036.6 148.3L1039.8 151.4L1043.0 154.6L1046.3 158.0L1049.5 161.6L1052.8 165.2L1056.0 169.1L1059.2 173.1L1062.5 177.3L1065.7 181.7L1068.9 186.3L1072.2 191.1L1075.4 196.0L1078.6 201.4L1081.9 207.0L1085.1 212.7L1088.3 218.4L1091.6 224.1L1094.8 230.0L1098.1 235.9L1101.3 241.9L1104.5 248.1L1107.8 254.4L1111.0 260.8L1114.2 267.4L1117.5 274.2L1120.7 281.3L1123.9 288.5L1127.2 296.0L1130.4 303.7L1133.7 311.7L1136.9 320.0L1140.1 328.6L1143.4 337.5L1146.6 346.8L1149.8 356.7L1153.1 367.4L1156.3 378.7L1159.5 390.6L1162.8 403.1L1166.0 416.2L1169.2 429.9L1172.5 444.1L1175.7 458.7L1179.0 473.8L1182.2 489.4L1185.4 505.3L1188.7 521.6L1191.9 538.2L1195.1 556.9L1198.4 577.3L1201.6 598.0L1204.8 618.0L1208.1 637.9L1211.3 658.0L1214.6 678.1L1217.8 698.6L1221.0 719.3L1224.3 740.6L1227.5 762.5L1230.7 784.7L1234.0 806.6L1237.2 828.6L1240.4 850.8L1243.7 873.1L1246.9 895.3L1250.1 917.1L1253.4 938.4L1256.6 959.0L1259.9 978.7L1263.1 997.4L1266.3 1015.6L1269.6 1033.3L1272.8 1050.1L1276.0 1065.7L1279.3 1079.8L1282.5 1093.0L1285.7 1105.8L1289.0 1118.1L1292.2 1129.7L1295.5 1140.2L1298.7 1149.4L1301.9 1157.1L1305.2 1163.2L1308.4 1168.6L1311.6 1173.3L1314.9 1177.5L1318.1 1181.2L1321.3 1184.5L1324.6 1187.5L1327.8 1190.4L1331.0 1193.1L1334.3 1195.6L1337.5 1197.8L1340.8 1199.8L1344.0 1201.4L1347.2 1202.6L1350.5 1203.7L1353.7 1204.8L1356.9 1205.8L1360.2 1206.7L1363.4 1207.5L1366.6 1208.3L1369.9 1209.0L1373.1 1209.7L1376.4 1210.4L1379.6 1211.0L1382.8 1211.6L1386.1 1212.1L1389.3 1212.6L1392.5 1213.0L1395.8 1213.5L1399.0 1213.9L1402.2 1214.3L1405.5 1214.6L1408.7 1215.0L1411.9 1215.3L1415.2 1215.7L1418.4 1216.0L1421.7 1216.3L1424.9 1216.6L1428.1 1217.0L1431.4 1217.2L1434.6 1217.5L1437.8 1217.8L1441.1 1218.1L1444.3 1218.3L1447.5 1218.6L1450.8 1218.8L1454.0 1219.1L1457.3 1219.3L1460.5 1219.5L1463.7 1219.7L1467.0 1219.9L1470.2 1220.1L1473.4 1220.3L1476.7 1220.5L1479.9 1220.7L1483.1 1220.9L1486.4 1221.0L1489.6 1221.2L1492.8 1221.4L1496.1 1221.5L1499.3 1221.7L1502.6 1221.8L1505.8 1222.0L1509.0 1222.1L1512.3 1222.3L1515.5 1222.4L1518.7 1222.5L1522.0 1222.7L1525.2 1222.8L1528.4 1222.9L1531.7 1223.1L1534.9 1223.2L1538.2 1223.3L1541.4 1223.4L1544.6 1223.6L1547.9 1223.7L1551.1 1223.8L1554.3 1223.9L1557.6 1224.0L1560.8 1224.1L1564.0 1224.2L1567.3 1224.3L1570.5 1224.5L1573.7 1224.6L1577.0 1224.7L1580.2 1224.8L1583.5 1224.9L1586.7 1225.0L1589.9 1225.1L1593.2 1225.1L1596.4 1225.2L1599.6 1225.3L1602.9 1225.4L1606.1 1225.5L1609.3 1225.6L1612.6 1225.7L1615.8 1225.8L1619.1 1225.8L1622.3 1225.9L1625.5 1226.0L1628.8 1226.1L1632.0 1226.2L1635.2 1226.2L1638.5 1226.3L1641.7 1226.4L1644.9 1226.4L1648.2 1226.5L1651.4 1226.6L1654.6 1226.6L1657.9 1226.7L1661.1 1226.8L1664.4 1226.8L1667.6 1226.9L1670.8 1227.0L1674.1 1227.0L1677.3 1227.1L1680.5 1227.1L1683.8 1227.2L1687.0 1227.2L1690.2 1227.3L1693.5 1227.3L1696.7 1227.4L1700.0 1227.4L1703.2 1227.5L1706.4 1227.5L1709.7 1227.5L1712.9 1227.6L1716.1 1227.6L1719.4 1227.7L1722.6 1227.7L1725.8 1227.7L1729.1 1227.8L1732.3 1227.8L1735.5 1227.9L1738.8 1227.9L1742.0 1227.9L1745.3 1228.0L1748.5 1228.0L1751.7 1228.0L1755.0 1228.1L1758.2 1228.1L1761.4 1228.1L1764.7 1228.2L1767.9 1228.2L1771.1 1228.2L1774.4 1228.3L1777.6 1228.3L1780.9 1228.4L1784.1 1228.4L1787.3 1228.4L1790.6 1228.5L1793.8 1228.5L1797.0 1228.6L1800.3 1228.6L1803.5 1228.6L1806.7 1228.7L1810.0 1228.7L1813.2 1228.8L1816.4 1228.8L1819.7 1228.9L1822.9 1228.9L1826.2 1229.0L1829.4 1229.0L1832.6 1229.1L1835.9 1229.1L1839.1 1229.2L1842.3 1229.2L1845.6 1229.3L1848.8 1229.4L1852.0 1229.4L1855.3 1229.5L1858.5 1229.6L1861.8 1229.7L1865.0 1230.0L1868.2 1231.2L1870.5 1234.1"/>
<path stroke="#ff00ff" stroke-width="16.0" d="M302.0 80.6L305.2 80.6L308.5 80.6L311.7 80.6L314.9 80.6L318.2 80.6L321.4 80.6L324.7 80.6L327.9 80.7L331.1 80.7L334.4 80.7L337.6 80.7L340.8 80.7L344.1 80.7L347.3 80.8L350.5 80.8L353.8 80.8L357.0 80.8L360.2 80.9L363.5 80.9L366.7 80.9L370.0 80.9L373.2 81.0L376.4 81.0L379.7 81.0L382.9 81.0L386.1 81.1L389.4 81.1L392.6 81.1L395.8 81.2L399.1 81.2L402.3 81.2L405.6 81.3L408.8 81.3L412.0 81.3L415.3 81.4L418.5 81.4L421.7 81.5L425.0 81.5L428.2 81.6L431.4 81.6L434.7 81.7L437.9 81.8L441.1 81.8L444.4 81.9L447.6 82.0L450.9 82.0L454.1 82.1L457.3 82.2L460.6 82.2L463.8 82.3L467.0 82.4L470.3 82.4L473.5 82.5L476.7 82.6L480.0 82.6L483.2 82.7L486.5 82.7L489.7 82.8L492.9 82.9L496.2 82.9L499.4 83.0L502.6 83.0L505.9 83.1L509.1 83.1L512.3 83.2L515.6 83.2L518.8 83.3L522.0 83.3L525.3 83.4L528.5 83.4L531.8 83.4L535.0 83.5L538.2 83.5L541.5 83.6L544.7 83.6L547.9 83.7L551.2 83.7L554.4 83.7L557.6 83.8L560.9 83.8L564.1 83.9L567.4 83.9L570.6 84.0L573.8 84.0L577.1 84.0L580.3 84.1L583.5 84.1L586.8 84.2L590.0 84.2L593.2 84.3L596.5 84.3L599.7 84.4L602.9 84.4L606.2 84.4L609.4 84.5L612.7 84.5L615.9 84.6L619.1 84.6L622.4 84.7L625.6 84.8L628.8 84.8L632.1 84.9L635.3 84.9L638.5 85.0L641.8 85.0L645.0 85.1L648.3 85.1L651.5 85.2L654.7 85.2L658.0 85.3L661.2 85.3L664.4 85.4L667.7 85.4L670.9 85.5L674.1 85.5L677.4 85.6L680.6 85.6L683.8 85.7L687.1 85.7L690.3 85.8L693.6 85.8L696.8 85.9L700.0 85.9L703.3 86.0L706.5 86.1L709.7 86.1L713.0 86.2L716.2 86.2L719.4 86.3L722.7 86.3L725.9 86.4L729.2 86.5L732.4 86.5L735.6 86.6L738.9 86.7L742.1 86.7L745.3 86.8L748.6 86.9L751.8 87.0L755.0 87.0L758.3 87.1L761.5 87.2L764.7 87.3L768.0 87.4L771.2 87.4L774.5 87.5L777.7 87.6L780.9 87.7L784.2 87.8L787.4 87.9L790.6 88.0L793.9 88.1L797.1 88.2L800.3 88.3L803.6 88.4L806.8 88.6L810.1 88.7L813.3 88.8L816.5 89.0L819.8 89.1L823.0 89.3L826.2 89.5L829.5 89.7L832.7 89.9L835.9 90.1L839.2 90.3L842.4 90.5L845.6 90.8L848.9 91.0L852.1 91.3L855.4 91.5L858.6 91.8L861.8 92.1L865.1 92.4L868.3 92.7L871.5 93.0L874.8 93.3L878.0 93.6L881.2 93.9L884.5 94.3L887.7 94.6L891.0 95.0L894.2 95.4L897.4 95.9L900.7 96.3L903.9 96.8L907.1 97.3L910.4 97.9L913.6 98.5L916.8 99.0L920.1 99.6L923.3 100.2L926.5 100.8L929.8 101.5L933.0 102.1L936.3 102.7L939.5 103.3L942.7 103.9L946.0 104.6L949.2 105.2L952.4 105.8L955.7 106.4L958.9 107.1L962.1 107.9L965.4 108.7L968.6 109.6L971.9 110.5L975.1 111.6L978.3 112.6L981.6 113.8L984.8 115.0L988.0 116.3L991.3 117.7L994.5 119.2L997.7 120.7L1001.0 122.3L1004.2 124.0L1007.4 125.8L1010.7 127.7L1013.9 129.8L1017.2 131.9L1020.4 134.1L1023.6 136.4L1026.9 138.9L1030.1 141.5L1033.3 144.3L1036.6 147.2L1039.8 150.3L1043.0 153.6L1046.3 157.1L1049.5 160.8L1052.8 164.7L1056.0 168.9L1059.2 173.4L1062.5 178.1L1065.7 183.2L1068.9 188.7L1072.2 194.5L1075.4 200.8L1078.6 207.2L1081.9 213.7L1085.1 220.2L1088.3 226.9L1091.6 233.6L1094.8 240.4L1098.1 247.4L1101.3 254.6L1104.5 261.9L1107.8 269.5L1111.0 277.2L1114.2 285.2L1117.5 293.4L1120.7 301.9L1123.9 310.7L1127.2 319.8L1130.4 329.2L1133.7 339.0L1136.9 349.2L1140.1 360.1L1143.4 371.6L1146.6 383.7L1149.8 396.4L1153.1 409.7L1156.3 423.6L1159.5 437.9L1162.8 452.8L1166.0 468.0L1169.2 483.8L1172.5 499.9L1175.7 516.3L1179.0 533.1L1182.2 551.1L1185.4 571.2L1188.7 591.9L1191.9 612.0L1195.1 631.9L1198.4 651.9L1201.6 672.1L1204.8 692.4L1208.1 713.0L1211.3 734.1L1214.6 755.8L1217.8 778.0L1221.0 800.0L1224.3 822.0L1227.5 844.3L1230.7 866.6L1234.0 888.8L1237.2 910.8L1240.4 932.4L1243.7 953.6L1246.9 974.0L1250.1 994.0L1253.4 1014.1L1256.6 1033.8L1259.9 1052.4L1263.1 1069.3L1266.3 1084.0L1269.6 1097.4L1272.8 1109.8L1276.0 1121.4L1279.3 1132.3L1282.5 1142.5L1285.7 1152.2L1289.0 1161.5L1292.2 1170.6L1295.5 1179.3L1298.7 1187.4L1301.9 1194.4L1305.2 1200.0L1308.4 1204.6L1311.6 1208.6L1314.9 1212.2L1318.1 1215.3L1321.3 1217.8L1324.6 1219.8L1327.8 1221.6L1331.0 1223.2L1334.3 1224.7L1337.5 1226.0L1340.8 1227.2L1344.0 1228.3L1347.2 1229.1L1350.5 1229.9L1353.7 1230.5L1356.9 1231.0L1360.2 1231.5L1363.4 1231.9L1366.6 1232.4L1369.9 1232.7L1373.1 1233.1L1376.4 1233.4L1379.6 1233.8L1382.8 1234.1L1386.1 1234.4L1389.3 1234.6L1392.5 1234.9L1395.8 1235.2L1399.0 1235.5L1402.2 1235.8L1405.5 1236.1L1408.7 1236.4L1411.9 1236.6L1415.2 1236.9L1418.4 1237.2L1421.7 1237.5L1424.9 1237.8L1428.1 1238.1L1431.4 1238.3L1434.6 1238.6L1437.8 1238.9L1441.1 1239.1L1444.3 1239.4L1447.5 1239.6L1450.8 1239.9L1454.0 1240.1L1457.3 1240.3L1460.5 1240.6L1463.7 1240.8L1467.0 1241.0L1470.2 1241.2L1473.4 1241.4L1476.7 1241.6L1479.9 1241.8L1483.1 1242.0L1486.4 1242.1L1489.6 1242.3L1492.8 1242.4L1496.1 1242.6L1499.3 1242.7L1502.6 1242.8L1505.8 1242.9L1509.0 1243.1L1512.3 1243.2L1515.5 1243.3L1518.7 1243.4L1522.0 1243.5L1525.2 1243.6L1528.4 1243.7L1531.7 1243.8L1534.9 1243.9L1538.2 1244.0L1541.4 1244.1L1544.6 1244.2L1547.9 1244.3L1551.1 1244.4L1554.3 1244.5L1557.6 1244.6L1560.8 1244.6L1564.0 1244.7L1567.3 1244.8L1570.5 1244.9L1573.7 1245.0L1577.0 1245.0L1580.2 1245.1L1583.5 1245.2L1586.7 1245.3L1589.9 1245.3L1593.2 1245.4L1596.4 1245.5L1599.6 1245.5L1602.9 1245.6L1606.1 1245.7L1609.3 1245.7L1612.6 1245.8L1615.8 1245.9L1619.1 1245.9L1622.3 1246.0L1625.5 1246.0L1628.8 1246.1L1632.0 1246.2L1635.2 1246.2L1638.5 1246.3L1641.7 1246.3L1644.9 1246.4L1648.2 1246.4L1651.4 1246.5L1654.6 1246.5L1657.9 1246.6L1661.1 1246.6L1664.4 1246.7L1667.6 1246.7L1670.8 1246.8L1674.1 1246.8L1677.3 1246.9L1680.5 1246.9L1683.8 1246.9L1687.0 1247.0L1690.2 1247.0L1693.5 1247.1L1696.7 1247.1L1700.0 1247.2L1703.2 1247.2L1706.4 1247.3L1709.7 1247.3L1712.9 1247.4L1716.1 1247.4L1719.4 1247.4L1722.6 1247.5L1725.8 1247.5L1729.1 1247.6L1732.3 1247.6L1735.5 1247.6L1738.8 1247.7L1742.0 1247.7L1745.3 1247.8L1748.5 1247.8L1751.7 1247.8L1755.0 1247.9L1758.2 1247.9L1761.4 1248.0L1764.7 1248.0L1767.9 1248.0L1771.1 1248.1L1774.4 1248.1L1777.6 1248.1L1780.9 1248.2L1784.1 1248.2L1787.3 1248.2L1790.6 1248.3L1793.8 1248.3L1797.0 1248.3L1800.3 1248.4L1803.5 1248.4L1806.7 1248.4L1810.0 1248.4L1813.2 1248.5L1816.4 1248.5L1819.7 1248.5L1822.9 1248.5L1826.2 1248.6L1829.4 1248.6L1832.6 1248.6L1835.9 1248.6L1839.1 1248.6L1842.3 1248.6L1845.6 1248.7L1848.8 1248.7L1852.0 1248.7L1855.3 1248.7L1858.5 1248.7L1861.8 1248.7L1865.0 1248.7L1868.2 1248.7L1870.5 1248.8"/>
</g>
<path id="zoom-box" fill="none" stroke="#c8410b" stroke-width="5.2" d="M949.8 28.2V41.5M949.8 60V81.7M949.8 98.9V118.9M949.8 137V159.6M949.8 178.7V199.3M949.8 28.2H959.1M975.5 28.2H996.9M1013.2 28.2H1037.1M1053.5 28.2H1076.1M1092.5 28.2H1109.4M1109.4 28.2V33.9M1109.4 51.6V73M1109.4 91.8V112M1109.4 130.8V151M1109.4 169.9V191M959.1 199.3H981.8M1000.7 199.3H1022M1039.7 199.3H1061M1079.9 199.3H1101.3"/>
<path fill="#c8410b" d="M947.1999999999999 25.599999999999998h5.2v5.2h-5.2zM1106.8000000000002 25.599999999999998h5.2v5.2h-5.2zM947.1999999999999 196.70000000000002h5.2v5.2h-5.2z"/>
<g id="connectors" stroke="#00b0f0" stroke-width="13.5" fill="none" stroke-dasharray="13.5 14.6">
<line x1="1111.1" y1="30.1" x2="1327" y2="101.8"/>
<line x1="1111.8" y1="199.9" x2="1324" y2="519.4"/>
</g>
<g id="inset" clip-path="url(#pageclip)"><g filter="url(#softer)">
<path fill="none" stroke="#000" stroke-width="5.4" stroke-linecap="square" d="M1322.5 101.0H1895.5M1322.5 523.5H1895.5"/>
<path fill="none" stroke="#000" stroke-width="6.2" stroke-linecap="square" d="M1322.5 101.0V523.5M1895.5 101.0V523.5"/>
<g stroke="#000" stroke-width="4" fill="none">
<line x1="1322.5" y1="523.5" x2="1322.5" y2="535.0"/>
<line x1="1379.8" y1="523.5" x2="1379.8" y2="532.0"/>
<line x1="1437.1" y1="523.5" x2="1437.1" y2="535.0"/>
<line x1="1494.4" y1="523.5" x2="1494.4" y2="532.0"/>
<line x1="1551.7" y1="523.5" x2="1551.7" y2="535.0"/>
<line x1="1609.0" y1="523.5" x2="1609.0" y2="532.0"/>
<line x1="1666.3" y1="523.5" x2="1666.3" y2="535.0"/>
<line x1="1723.6" y1="523.5" x2="1723.6" y2="532.0"/>
<line x1="1780.9" y1="523.5" x2="1780.9" y2="535.0"/>
<line x1="1838.2" y1="523.5" x2="1838.2" y2="532.0"/>
<line x1="1895.5" y1="523.5" x2="1895.5" y2="535.0"/>
<line x1="1313.0" y1="523.5" x2="1322.5" y2="523.5"/>
<line x1="1317.5" y1="417.9" x2="1322.5" y2="417.9"/>
<line x1="1313.0" y1="312.2" x2="1322.5" y2="312.2"/>
<line x1="1317.5" y1="206.6" x2="1322.5" y2="206.6"/>
<line x1="1313.0" y1="101.0" x2="1322.5" y2="101.0"/>
</g>
<g clip-path="url(#insetclip)" fill="none" stroke-linejoin="round">
<path stroke="#000000" stroke-width="7.2" d="M1322.5 153.6L1328.2 154.2L1334.0 155.0L1339.7 155.8L1345.4 156.6L1351.2 157.5L1356.9 158.4L1362.6 159.4L1368.3 160.4L1374.1 161.5L1379.8 162.6L1385.5 163.8L1391.3 165.0L1397.0 166.3L1402.7 167.6L1408.5 169.0L1414.2 170.4L1419.9 171.9L1425.6 173.4L1431.4 175.0L1437.1 176.6L1442.8 178.3L1448.6 180.1L1454.3 181.9L1460.0 183.7L1465.8 185.6L1471.5 187.5L1477.2 189.5L1482.9 191.5L1488.7 193.6L1494.4 195.7L1500.1 197.9L1505.9 200.2L1511.6 202.4L1517.3 204.8L1523.0 207.2L1528.8 209.6L1534.5 212.1L1540.2 214.6L1546.0 217.2L1551.7 219.9L1557.4 222.6L1563.2 225.3L1568.9 228.1L1574.6 231.0L1580.3 233.9L1586.1 236.8L1591.8 239.8L1597.5 242.9L1603.3 246.0L1609.0 249.2L1614.7 252.4L1620.5 255.7L1626.2 259.0L1631.9 262.4L1637.7 265.8L1643.4 269.3L1649.1 272.9L1654.8 276.5L1660.6 280.1L1666.3 283.9L1672.0 287.7L1677.8 291.5L1683.5 295.4L1689.2 299.4L1695.0 303.5L1700.7 307.6L1706.4 311.9L1712.1 316.1L1717.9 320.5L1723.6 324.9L1729.3 329.5L1735.1 334.2L1740.8 338.9L1746.5 343.8L1752.2 348.7L1758.0 353.8L1763.7 359.0L1769.4 364.5L1775.2 370.0L1780.9 375.7L1786.6 381.6L1792.4 387.7L1798.1 394.1L1803.8 400.7L1809.5 407.6L1815.3 414.8L1821.0 422.3L1826.7 430.2L1832.5 438.6L1838.2 447.5L1843.9 457.1L1849.7 467.3L1855.4 478.2L1861.1 489.7L1866.8 501.8L1872.6 514.4L1878.3 528.4L1884.0 542.0L1889.8 555.3L1895.5 568.4L1901.2 581.2L1907.0 593.7L1912.7 606.1L1918.4 618.3"/>
<path stroke="#ff0000" stroke-width="7.2" d="M1322.5 218.7L1328.2 220.1L1334.0 221.7L1339.7 223.4L1345.4 225.2L1351.2 226.9L1356.9 228.5L1362.6 230.0L1368.3 231.5L1374.1 233.0L1379.8 234.4L1385.5 235.8L1391.3 237.2L1397.0 238.6L1402.7 240.0L1408.5 241.4L1414.2 242.7L1419.9 244.1L1425.6 245.4L1431.4 246.8L1437.1 248.2L1442.8 249.6L1448.6 251.0L1454.3 252.4L1460.0 253.8L1465.8 255.3L1471.5 256.8L1477.2 258.3L1482.9 259.9L1488.7 261.5L1494.4 263.1L1500.1 264.8L1505.9 266.6L1511.6 268.4L1517.3 270.2L1523.0 272.1L1528.8 274.1L1534.5 276.2L1540.2 278.3L1546.0 280.6L1551.7 282.9L1557.4 285.3L1563.2 287.8L1568.9 290.4L1574.6 293.1L1580.3 295.9L1586.1 298.9L1591.8 301.9L1597.5 305.1L1603.3 308.4L1609.0 311.9L1614.7 315.5L1620.5 319.2L1626.2 323.1L1631.9 327.2L1637.7 331.4L1643.4 335.8L1649.1 340.4L1654.8 345.2L1660.6 350.2L1666.3 355.3L1672.0 360.6L1677.8 366.2L1683.5 372.0L1689.2 378.1L1695.0 384.4L1700.7 390.8L1706.4 397.6L1712.1 404.6L1717.9 411.9L1723.6 419.4L1729.3 427.2L1735.1 435.3L1740.8 443.7L1746.5 452.5L1752.2 461.6L1758.0 471.0L1763.7 480.6L1769.4 490.5L1775.2 500.8L1780.9 511.6L1786.6 522.7L1792.4 533.9L1798.1 545.1L1803.8 556.1L1809.5 567.1L1815.3 578.0L1821.0 588.8L1826.7 599.6L1832.5 610.4L1838.2 621.1L1843.9 631.9L1849.7 642.6L1855.4 653.4L1861.1 664.1L1866.8 675.0L1872.6 685.8L1878.3 696.7L1884.0 707.7L1889.8 718.8L1895.5 730.0L1901.2 741.3L1907.0 752.7L1912.7 764.2L1918.4 775.9"/>
<path stroke="#0000ff" stroke-width="7.2" d="M1322.5 154.2L1328.2 154.9L1334.0 155.6L1339.7 156.4L1345.4 157.3L1351.2 158.1L1356.9 159.1L1362.6 160.0L1368.3 161.0L1374.1 162.1L1379.8 163.2L1385.5 164.3L1391.3 165.5L1397.0 166.7L1402.7 168.0L1408.5 169.3L1414.2 170.7L1419.9 172.1L1425.6 173.5L1431.4 175.0L1437.1 176.6L1442.8 178.2L1448.6 179.9L1454.3 181.6L1460.0 183.4L1465.8 185.2L1471.5 187.0L1477.2 188.9L1482.9 190.9L1488.7 193.0L1494.4 195.0L1500.1 197.2L1505.9 199.4L1511.6 201.6L1517.3 204.0L1523.0 206.3L1528.8 208.8L1534.5 211.3L1540.2 213.8L1546.0 216.5L1551.7 219.2L1557.4 222.0L1563.2 224.8L1568.9 227.7L1574.6 230.7L1580.3 233.8L1586.1 236.9L1591.8 240.2L1597.5 243.5L1603.3 246.9L1609.0 250.4L1614.7 253.9L1620.5 257.6L1626.2 261.4L1631.9 265.2L1637.7 269.2L1643.4 273.3L1649.1 277.5L1654.8 281.8L1660.6 286.2L1666.3 290.7L1672.0 295.3L1677.8 300.1L1683.5 305.0L1689.2 310.1L1695.0 315.3L1700.7 320.6L1706.4 326.1L1712.1 331.8L1717.9 337.6L1723.6 343.6L1729.3 349.8L1735.1 356.1L1740.8 362.7L1746.5 369.5L1752.2 376.4L1758.0 383.6L1763.7 391.1L1769.4 398.7L1775.2 406.6L1780.9 414.8L1786.6 423.3L1792.4 432.0L1798.1 441.0L1803.8 450.4L1809.5 460.1L1815.3 470.2L1821.0 480.6L1826.7 491.4L1832.5 502.5L1838.2 513.7L1843.9 525.7L1849.7 538.1L1855.4 550.5L1861.1 562.7L1866.8 574.9L1872.6 587.1L1878.3 599.2L1884.0 611.3L1889.8 623.4L1895.5 635.6L1901.2 647.7L1907.0 659.9L1912.7 672.2L1918.4 684.5"/>
<path stroke="#00ff00" stroke-width="7.2" d="M1322.5 185.5L1328.2 186.6L1334.0 187.6L1339.7 188.7L1345.4 189.9L1351.2 191.1L1356.9 192.3L1362.6 193.7L1368.3 195.1L1374.1 196.6L1379.8 198.2L1385.5 199.8L1391.3 201.5L1397.0 203.3L1402.7 205.1L1408.5 207.0L1414.2 209.0L1419.9 211.0L1425.6 213.1L1431.4 215.3L1437.1 217.5L1442.8 219.9L1448.6 222.3L1454.3 224.8L1460.0 227.3L1465.8 229.9L1471.5 232.6L1477.2 235.4L1482.9 238.3L1488.7 241.2L1494.4 244.2L1500.1 247.3L1505.9 250.5L1511.6 253.7L1517.3 257.1L1523.0 260.5L1528.8 264.1L1534.5 267.7L1540.2 271.4L1546.0 275.2L1551.7 279.0L1557.4 283.0L1563.2 287.1L1568.9 291.2L1574.6 295.5L1580.3 299.9L1586.1 304.3L1591.8 308.9L1597.5 313.6L1603.3 318.4L1609.0 323.2L1614.7 328.2L1620.5 333.4L1626.2 338.6L1631.9 343.9L1637.7 349.4L1643.4 354.9L1649.1 360.6L1654.8 366.5L1660.6 372.4L1666.3 378.5L1672.0 384.7L1677.8 391.0L1683.5 397.5L1689.2 404.2L1695.0 410.9L1700.7 417.8L1706.4 424.9L1712.1 432.1L1717.9 439.5L1723.6 447.1L1729.3 454.8L1735.1 462.6L1740.8 470.7L1746.5 478.9L1752.2 487.4L1758.0 496.0L1763.7 504.7L1769.4 513.5L1775.2 522.7L1780.9 532.7L1786.6 542.7L1792.4 552.7L1798.1 562.8L1803.8 572.8L1809.5 582.9L1815.3 593.1L1821.0 603.3L1826.7 613.6L1832.5 623.9L1838.2 634.3L1843.9 644.8L1849.7 655.4L1855.4 666.0L1861.1 676.8L1866.8 687.7L1872.6 698.7L1878.3 709.8L1884.0 721.1L1889.8 732.5L1895.5 744.0L1901.2 755.7L1907.0 767.6L1912.7 779.6L1918.4 791.8"/>
<path stroke="#ff00ff" stroke-width="7.2" d="M1322.5 190.5L1328.2 191.6L1334.0 192.7L1339.7 193.8L1345.4 194.9L1351.2 196.1L1356.9 197.4L1362.6 198.7L1368.3 200.1L1374.1 201.5L1379.8 203.0L1385.5 204.6L1391.3 206.2L1397.0 207.9L1402.7 209.6L1408.5 211.4L1414.2 213.2L1419.9 215.1L1425.6 217.1L1431.4 219.1L1437.1 221.2L1442.8 223.4L1448.6 225.6L1454.3 227.9L1460.0 230.2L1465.8 232.6L1471.5 235.1L1477.2 237.7L1482.9 240.3L1488.7 243.0L1494.4 245.8L1500.1 248.6L1505.9 251.5L1511.6 254.5L1517.3 257.6L1523.0 260.8L1528.8 264.0L1534.5 267.4L1540.2 270.8L1546.0 274.3L1551.7 277.9L1557.4 281.7L1563.2 285.5L1568.9 289.4L1574.6 293.4L1580.3 297.5L1586.1 301.7L1591.8 306.1L1597.5 310.6L1603.3 315.1L1609.0 319.9L1614.7 324.7L1620.5 329.7L1626.2 334.8L1631.9 340.1L1637.7 345.5L1643.4 351.1L1649.1 356.9L1654.8 362.8L1660.6 368.9L1666.3 375.2L1672.0 381.6L1677.8 388.3L1683.5 395.2L1689.2 402.3L1695.0 409.6L1700.7 417.2L1706.4 425.0L1712.1 433.0L1717.9 441.4L1723.6 450.0L1729.3 458.9L1735.1 468.1L1740.8 477.6L1746.5 487.4L1752.2 497.7L1758.0 508.3L1763.7 519.3L1769.4 530.6L1775.2 542.0L1780.9 553.5L1786.6 564.9L1792.4 576.5L1798.1 588.1L1803.8 599.7L1809.5 611.5L1815.3 623.3L1821.0 635.2L1826.7 647.2L1832.5 659.4L1838.2 671.6L1843.9 684.0L1849.7 696.5L1855.4 709.1L1861.1 721.9L1866.8 734.9L1872.6 748.0L1878.3 761.3L1884.0 774.8L1889.8 788.5L1895.5 802.4L1901.2 816.4L1907.0 830.7L1912.7 845.3L1918.4 860.0"/>
</g>
<line x1="1339.5" y1="339.8" x2="1400" y2="339.8" stroke="#000000" stroke-width="5.6"/>
<text x="1403.5" y="347.8" font-size="25.5" textLength="214" lengthAdjust="spacing">BA/BI = 8/2 - 0.001</text>
<line x1="1339.5" y1="370.4" x2="1400" y2="370.4" stroke="#ff0000" stroke-width="5.6"/>
<text x="1403.5" y="380.5" font-size="25.5" textLength="200.3" lengthAdjust="spacing">BA/BI = 8/2 - 0.01</text>
<line x1="1339.5" y1="403.7" x2="1400" y2="403.7" stroke="#0000ff" stroke-width="5.6"/>
<text x="1403.5" y="412.3" font-size="25.5" textLength="200.3" lengthAdjust="spacing">BA/BI = 8/2 - 0.05</text>
<line x1="1339.5" y1="437.6" x2="1400" y2="437.6" stroke="#00ff00" stroke-width="5.6"/>
<text x="1403.5" y="446.1" font-size="25.5" textLength="189" lengthAdjust="spacing">BA/BI = 8/2 - 0.1</text>
<line x1="1339.5" y1="471.1" x2="1400" y2="471.1" stroke="#ff00ff" stroke-width="5.6"/>
<text x="1403.5" y="479.9" font-size="25.5" textLength="189" lengthAdjust="spacing">BA/BI = 8/2 - 0.2</text>
<text x="1321.0" y="560.8" font-size="23.5" text-anchor="middle" textLength="37" lengthAdjust="spacing">300</text>
<text x="1435.6" y="560.8" font-size="23.5" text-anchor="middle" textLength="37" lengthAdjust="spacing">310</text>
<text x="1550.2" y="560.8" font-size="23.5" text-anchor="middle" textLength="37" lengthAdjust="spacing">320</text>
<text x="1664.8" y="560.8" font-size="23.5" text-anchor="middle" textLength="37" lengthAdjust="spacing">330</text>
<text x="1779.4" y="560.8" font-size="23.5" text-anchor="middle" textLength="37" lengthAdjust="spacing">340</text>
<text x="1894.0" y="560.8" font-size="23.5" text-anchor="middle" textLength="37" lengthAdjust="spacing">350</text>
<text x="1306" y="109.5" font-size="25" text-anchor="end" textLength="46" lengthAdjust="spacing">1.00</text>
<text x="1306" y="320.8" font-size="25" text-anchor="end" textLength="46" lengthAdjust="spacing">0.95</text>
<text x="1306" y="532.0" font-size="25" text-anchor="end" textLength="46" lengthAdjust="spacing">0.90</text>
<text x="1609.5" y="609.2" font-size="28.5" text-anchor="middle" textLength="224" lengthAdjust="spacing">Temperature (°C)</text>
<text transform="translate(1232.5 332) rotate(-90)" font-size="30" text-anchor="middle" textLength="209" lengthAdjust="spacing">Weight loss (%)</text>
</g></g>
<line x1="349.5" y1="744.3" x2="514.5" y2="744.3" stroke="#000000" stroke-width="15" stroke-linecap="round"/>
<text x="534" y="766.3" font-size="69" textLength="600.1" lengthAdjust="spacing">BA/BI = 8/2 - 0.001</text>
<line x1="349.5" y1="836.4" x2="514.5" y2="836.4" stroke="#ff0000" stroke-width="15" stroke-linecap="round"/>
<text x="534" y="858.4" font-size="69" textLength="565.5" lengthAdjust="spacing">BA/BI = 8/2 - 0.01</text>
<line x1="349.5" y1="928.6" x2="514.5" y2="928.6" stroke="#0000ff" stroke-width="15" stroke-linecap="round"/>
<text x="534" y="950.6" font-size="69" textLength="567.5" lengthAdjust="spacing">BA/BI = 8/2 - 0.05</text>
<line x1="349.5" y1="1021.2" x2="514.5" y2="1021.2" stroke="#00ff00" stroke-width="15" stroke-linecap="round"/>
<text x="534" y="1043.2" font-size="69" textLength="527.5" lengthAdjust="spacing">BA/BI = 8/2 - 0.1</text>
<line x1="349.5" y1="1113.7" x2="514.5" y2="1113.7" stroke="#ff00ff" stroke-width="15" stroke-linecap="round"/>
<text x="534" y="1135.7" font-size="69" textLength="529.5" lengthAdjust="spacing">BA/BI = 8/2 - 0.2</text>
<text x="260.6" y="1285.6" font-size="71" letter-spacing="2.2" text-anchor="end">0.0</text>
<text x="260.6" y="1048.0" font-size="71" letter-spacing="2.2" text-anchor="end">0.2</text>
<text x="260.6" y="810.4" font-size="71" letter-spacing="2.2" text-anchor="end">0.4</text>
<text x="260.6" y="572.8" font-size="71" letter-spacing="2.2" text-anchor="end">0.6</text>
<text x="260.6" y="335.2" font-size="71" letter-spacing="2.2" text-anchor="end">0.8</text>
<text x="260.6" y="97.6" font-size="71" letter-spacing="2.2" text-anchor="end">1.0</text>
<text x="302.0" y="1365" font-size="71" letter-spacing="3.7" text-anchor="middle">100</text>
<text x="625.6" y="1365" font-size="71" letter-spacing="3.7" text-anchor="middle">200</text>
<text x="949.2" y="1365" font-size="71" letter-spacing="3.7" text-anchor="middle">300</text>
<text x="1272.8" y="1365" font-size="71" letter-spacing="3.7" text-anchor="middle">400</text>
<text x="1596.4" y="1365" font-size="71" letter-spacing="3.7" text-anchor="middle">500</text>
<text x="1920.0" y="1365" font-size="71" letter-spacing="3.7" text-anchor="middle">600</text>
<text x="1108.5" y="1502.5" font-size="82.5" text-anchor="middle" textLength="648" lengthAdjust="spacing">Temperature (°C)</text>
<text transform="translate(87.3 729.5) rotate(-90)" font-size="85" text-anchor="middle" textLength="592" lengthAdjust="spacing">Weight loss (%)</text>
</g>
</svg>
</body>
</html>
